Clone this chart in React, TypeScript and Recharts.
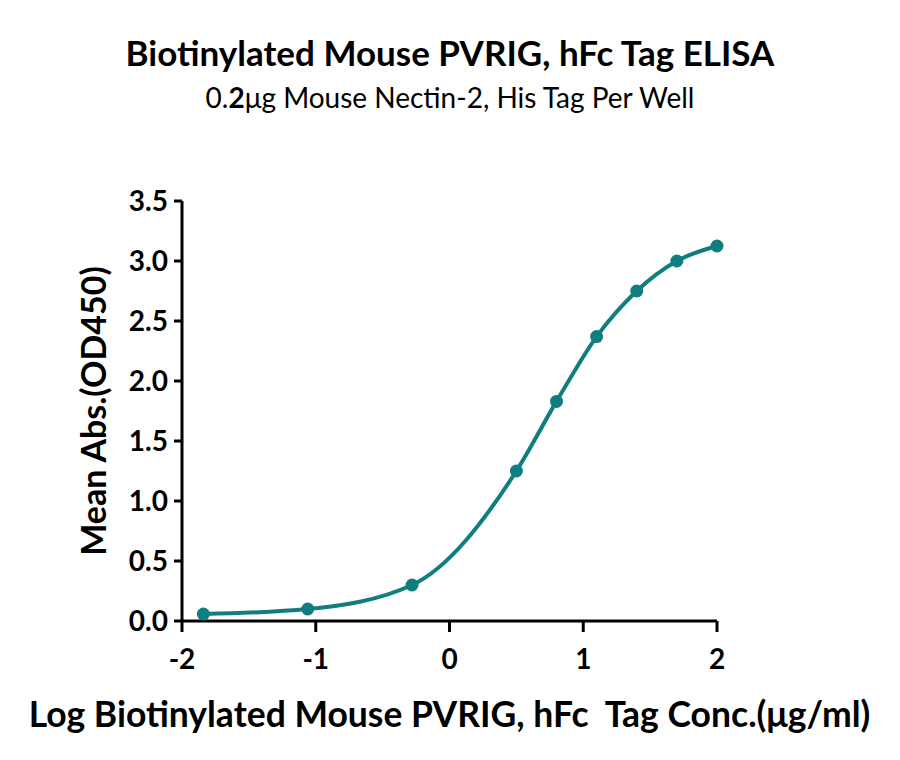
import { ComposedChart, Line, XAxis, YAxis, Label } from "recharts";

const logConc = [-1.84, -1.06, -0.28, 0.5, 0.8, 1.1, 1.4, 1.7, 2.0];
const meanAbs = [0.058, 0.1, 0.3, 1.25, 1.83, 2.37, 2.75, 3.0, 3.125];
const xTicks = [-2, -1, 0, 1, 2];
const yTicks = [0, 0.5, 1, 1.5, 2, 2.5, 3, 3.5];

const teal = "#0f7e7e";
const font = "Lato, 'Noto Sans', sans-serif";

const data = logConc.map((x, i) => ({ x, y: meanAbs[i] }));

export default function App() {
  const tickStyle = { fontSize: 28, fontWeight: 700, fill: "#000", fontFamily: font };
  return (
    <div style={{ position: "absolute", left: 0, top: 0, width: 900, height: 760, background: "#fff" }}>
      <div
        style={{
          position: "absolute",
          top: 31,
          width: 900,
          textAlign: "center",
          fontFamily: font,
          fontWeight: 700,
          fontSize: 35,
          color: "#000",
        }}
      >
        Biotinylated Mouse PVRIG, hFc Tag ELISA
      </div>
      <div
        style={{
          position: "absolute",
          top: 80,
          width: 900,
          textAlign: "center",
          fontFamily: font,
          fontSize: 28,
          color: "#000",
        }}
      >
        0.<b>2</b>μg Mouse Nectin-2, His Tag Per Well
      </div>
      <ComposedChart
        width={900}
        height={760}
        data={data}
        margin={{ top: 201, right: 183, bottom: 29, left: 82 }}
      >
        <XAxis
          type="number"
          dataKey="x"
          domain={[-2, 2]}
          ticks={xTicks}
          height={110}
          tickSize={11}
          tickMargin={17}
          tick={tickStyle}
          tickLine={{ stroke: "#000", strokeWidth: 3 }}
          axisLine={{ stroke: "#000", strokeWidth: 3 }}
        >
          <Label
            value={"Log Biotinylated Mouse PVRIG, hFc\u00a0 Tag Conc.(μg/ml)"}
            position="insideBottom"
            offset={4}
            style={{ fontSize: 35.5, fontWeight: 700, fill: "#000", fontFamily: font }}
          />
        </XAxis>
        <YAxis
          type="number"
          domain={[0, 3.5]}
          ticks={yTicks}
          width={100}
          tickSize={8}
          tickMargin={6}
          tickFormatter={(v: number) => v.toFixed(1)}
          tick={tickStyle}
          tickLine={{ stroke: "#000", strokeWidth: 3 }}
          axisLine={{ stroke: "#000", strokeWidth: 3 }}
        >
          <Label
            value="Mean Abs.(OD450)"
            angle={-90}
            position="insideLeft"
            offset={12}
            style={{ fontSize: 34, fontWeight: 700, fill: "#000", fontFamily: font, textAnchor: "middle" }}
          />
        </YAxis>
        <Line
          type="monotone"
          dataKey="y"
          stroke={teal}
          strokeWidth={4}
          dot={{ r: 6.5, fill: teal, stroke: teal, strokeWidth: 0 }}
          activeDot={false}
          isAnimationActive={false}
        />
      </ComposedChart>
    </div>
  );
}
